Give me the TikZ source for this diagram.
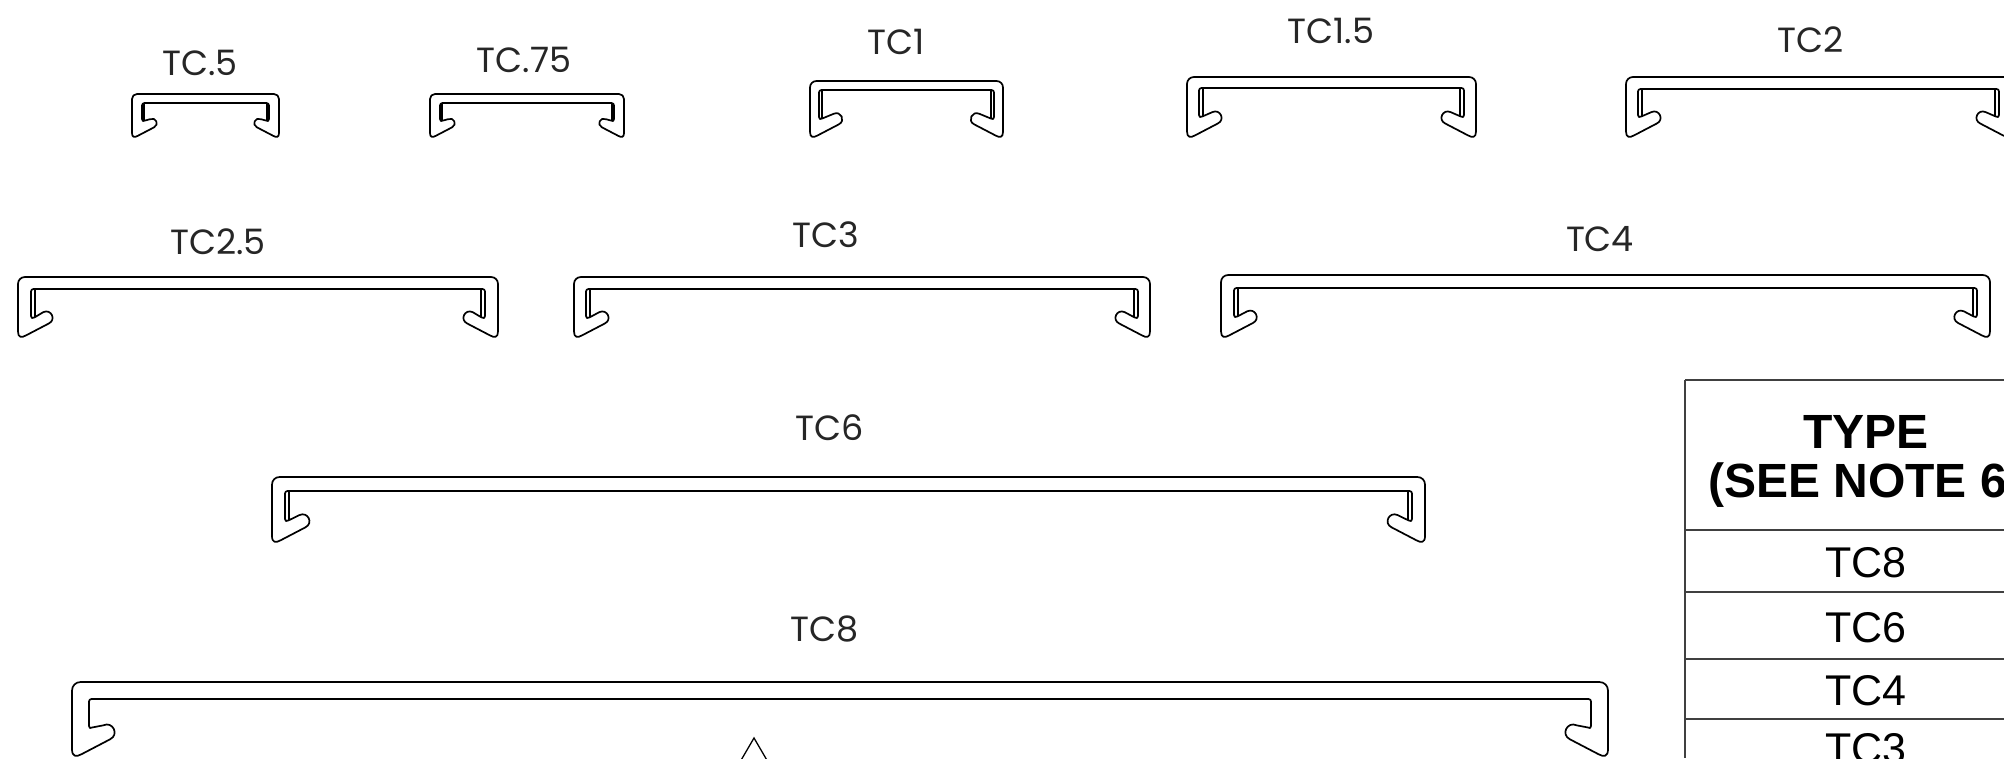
\documentclass[tikz,border=0pt]{standalone}
\usepackage{fontspec}
\setmainfont{Poppins}
\newfontfamily\tablefont{Liberation Sans}
\tikzset{
  x=1pt,y=-1pt,
  profile/.style={draw=black,line width=1.7pt,line join=round},
  tag/.style={anchor=base,inner sep=0pt,font=\fontsize{35}{35}\selectfont,text=black!85},
  rowtext/.style={anchor=base,inner sep=0pt,font=\tablefont\fontsize{43}{43}\selectfont},
  headtext/.style={inner sep=0pt,font=\tablefont\bfseries\fontsize{48}{48}\selectfont},
  tableline/.style={draw=black!75,line width=1.5pt}
}
% #1 L, #2 R, #3 T, #4 h, #5 t, #6 a, #7 c, #8 s
\newcommand{\channelshape}[8]{%
  \pgfmathsetmacro{\chk}{#4/60}
  \draw[profile]
    (#1+7*\chk,#3) .. controls (#1+3*\chk,#3) and (#1,#3+3*\chk) .. (#1,#3+7*\chk)
    -- (#1,#3+54.5*\chk) .. controls (#1,#3+60.8*\chk) and (#1+3.6*\chk,#3+60.9*\chk) .. (#1+8*\chk,#3+58.4*\chk)
    -- (#1+30.8*\chk,#3+46.5*\chk)
    .. controls (#1+38.6*\chk,#3+42.7*\chk) and (#1+33.1*\chk,#3+31.5*\chk) .. (#1+25.3*\chk,#3+35.15*\chk)
    -- (#1+#6+3.5,#3+#7-1.6) .. controls (#1+#6+1.2,#3+#7-0.5) and (#1+#6,#3+#7-0.5) .. (#1+#6,#3+#7-3)
    -- (#1+#6,#3+#5+2.5) .. controls (#1+#6,#3+#5+1) and (#1+#6+1,#3+#5) .. (#1+#6+2.5,#3+#5)
    -- (#2-#6-2.5,#3+#5) .. controls (#2-#6-1,#3+#5) and (#2-#6,#3+#5+1) .. (#2-#6,#3+#5+2.5)
    -- (#2-#6,#3+#7-3) .. controls (#2-#6,#3+#7-0.5) and (#2-#6-1.2,#3+#7-0.5) .. (#2-#6-3.5,#3+#7-1.6)
    -- (#2-25.3*\chk,#3+35.15*\chk)
    .. controls (#2-33.1*\chk,#3+31.5*\chk) and (#2-38.6*\chk,#3+42.7*\chk) .. (#2-30.8*\chk,#3+46.5*\chk)
    -- (#2-8*\chk,#3+58.4*\chk) .. controls (#2-3.6*\chk,#3+60.9*\chk) and (#2,#3+60.8*\chk) .. (#2,#3+54.5*\chk)
    -- (#2,#3+7*\chk) .. controls (#2,#3+3*\chk) and (#2-3*\chk,#3) .. (#2-7*\chk,#3)
    -- cycle;
  \ifdim #8pt>0pt
    \draw[profile] (#1+#6+#8,#3+#5) -- (#1+#6+#8,#3+#7-2.5);
    \draw[profile] (#2-#6-#8,#3+#5) -- (#2-#6-#8,#3+#7-2.5);
  \fi
}
\begin{document}
\begin{tikzpicture}
\useasboundingbox (0,0) rectangle (2004,758);
\clip (0,0) rectangle (2004,758);
% profiles
\channelshape{132}{279}{94}{43}{9}{10}{28}{2}
\channelshape{430}{624}{94}{43}{9}{10}{28}{2}
\channelshape{810}{1003}{81}{56}{9}{9}{39}{3}
\channelshape{1187}{1476}{77}{60}{11}{12}{41}{4}
\channelshape{1626}{2011}{77}{60}{12}{12}{41}{4}
\channelshape{18}{498}{277}{60}{12}{13}{42}{4}
\channelshape{574}{1150}{277}{60}{12}{12}{42}{4}
\channelshape{1221}{1990}{275}{62}{13}{13}{43}{4}
\channelshape{272}{1425}{477}{65}{14}{13}{45}{4}
\channelshape{72}{1608}{682}{74}{17}{17}{47}{0}
% profile labels
\node[tag] (t05) at (200,75) {TC.5};
\node[tag] (t075) at (524,72) {TC.75};
\node[tag] (t1) at (896,54) {TC1};
\node[tag] (t15) at (1331,43) {TC1.5};
\node[tag] (t2) at (1811,52.5) {TC2};
\node[tag] (t25) at (218,254) {TC2.5};
\node[tag] (t3) at (826,247) {TC3};
\node[tag] (t4) at (1600,251) {TC4};
\node[tag] (t6) at (830,440) {TC6};
\node[tag] (t8) at (825,641) {TC8};
% triangle
\coordinate (apex) at (754,738);
\coordinate (legl) at (740,762);
\coordinate (legr) at (768,762);
\draw[line width=1.3pt] (legl) -- (apex) -- (legr);
% table
\draw[tableline] (1685,380) -- (2004,380);
\draw[tableline] (1685,380) -- (1685,758);
\draw[tableline] (1685,530) -- (2004,530);
\draw[tableline] (1685,592) -- (2004,592);
\draw[tableline] (1685,659) -- (2004,659);
\draw[tableline] (1685,719) -- (2004,719);
\node[headtext,anchor=base] (h1) at (1866,448) {TYPE};
\node[headtext,anchor=base west] (h2) at (1708,497) {(SEE NOTE 6};
\node[rowtext] (r8) at (1866,577) {TC8};
\node[rowtext] (r6) at (1866,642) {TC6};
\node[rowtext] (r4) at (1866,705) {TC4};
\node[rowtext] (r3) at (1866,763) {TC3};
\end{tikzpicture}
\end{document}
